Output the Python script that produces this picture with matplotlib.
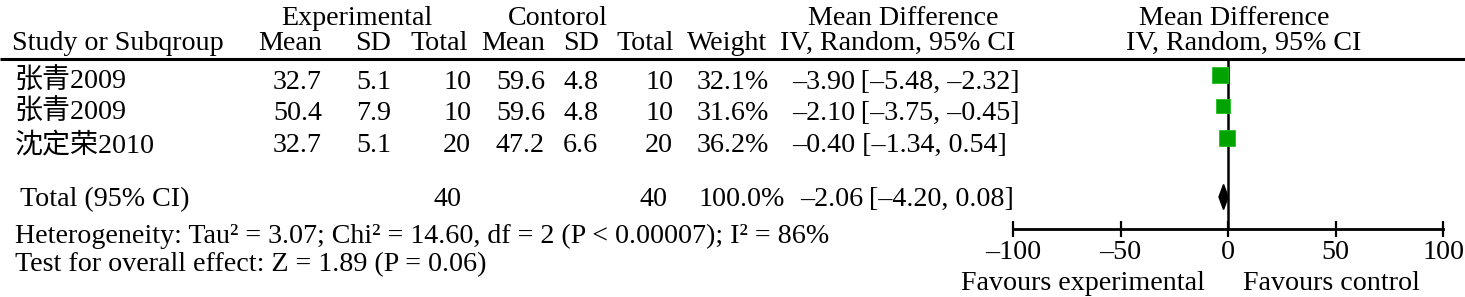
import matplotlib
matplotlib.use("Agg")
from matplotlib import pyplot as plt

plt.rcParams['font.family'] = ['Liberation Serif', 'Noto Sans CJK SC']

# Données
studies = ['张青2009', '张青2009', '沈定荣2010']
exp_mean = [32.7, 50.4, 32.7]
exp_sd = [5.1, 7.9, 5.1]
exp_n = [10, 10, 20]
ctl_mean = [59.6, 59.6, 47.2]
ctl_sd = [4.8, 4.8, 6.6]
ctl_n = [10, 10, 20]
weight = [32.1, 31.6, 36.2]
md = [-3.90, -2.10, -0.40]
md_lo = [-5.48, -3.75, -1.34]
md_hi = [-2.32, -0.45, 0.54]

total_exp_n = 40
total_ctl_n = 40
total_weight = 100.0
total_md = -2.06
total_lo = -4.20
total_hi = 0.08

ticks = [-100, -50, 0, 50, 100]
heterogeneity = "Heterogeneity: Tau² = 3.07; Chi² = 14.60, df = 2 (P < 0.00007); I² = 86%"
overall = "Test for overall effect: Z = 1.89 (P = 0.06)"


def fmt(v, nd=2):
    return f"{v:.{nd}f}".replace("-", "\u2013")


def ci_text(m, lo, hi, gap):
    return f"{fmt(m)}{gap}[{fmt(lo)}, {fmt(hi)}]"


W, H = 1465, 297
FS = 20.2
fig = plt.figure(figsize=(W / 100, H / 100), dpi=100)

# Tableau (coordonnées en pixels)
ax = fig.add_axes([0, 0, 1, 1])
ax.set_xlim(0, W)
ax.set_ylim(H, 0)
ax.axis('off')


def txt(x, y, s, ha='left'):
    ax.text(x, y, s, ha=ha, va='baseline', fontsize=FS, color='black')


# En-têtes
txt(357, 25, "Experimental", ha='center')
txt(558, 25, "Contorol", ha='center')
txt(903, 25, "Mean Difference", ha='center')
txt(1234, 25, "Mean Difference", ha='center')
txt(12, 50, "Study or Subqroup")
txt(322, 50, "Mean", ha='right')
txt(355, 50, "SD")
txt(468, 50, "Total", ha='right')
txt(545, 50, "Mean", ha='right')
txt(563, 50, "SD")
txt(674, 50, "Total", ha='right')
txt(767, 50, "Weight", ha='right')
txt(780, 50, "IV, Random, 95% CI")
txt(1244, 50, "IV, Random, 95% CI", ha='center')
ax.plot([0, W], [59, 59], color='black', lw=2.2, solid_capstyle='butt')

row_base = [89, 120, 152]
gaps = ['\u2009', '\u2009', ' ']
for i in range(len(studies)):
    y = row_base[i]
    txt(15, y, studies[i])
    txt(322, y, f"{exp_mean[i]:.1f}", ha='right')
    txt(356, y, f"{exp_sd[i]:.1f}")
    txt(471, y, str(exp_n[i]), ha='right')
    txt(545, y, f"{ctl_mean[i]:.1f}", ha='right')
    txt(563, y, f"{ctl_sd[i]:.1f}")
    txt(673, y, str(ctl_n[i]), ha='right')
    txt(697, y, f"{weight[i]:.1f}%")
    txt(792, y, ci_text(md[i], md_lo[i], md_hi[i], gaps[i]))

txt(20, 206, "Total (95% CI)")
txt(461, 206, str(total_exp_n), ha='right')
txt(668, 206, str(total_ctl_n), ha='right')
txt(698, 206, f"{total_weight:.1f}%")
txt(800, 206, ci_text(total_md, total_lo, total_hi, '\u2009'))
txt(15, 243, heterogeneity)
txt(15, 271, overall)
txt(1083, 290, "Favours experimental", ha='center')
txt(1243, 290, "Favours control")

# Forest plot
y_axis, y_top = 229, 59
fa = fig.add_axes([1013 / W, (H - y_axis) / H, 430 / W, (y_axis - y_top) / H])
fa.set_xlim(ticks[0], ticks[-1])
fa.set_ylim(y_axis, y_top)
fa.patch.set_alpha(0)
for s in ['top', 'left', 'right']:
    fa.spines[s].set_visible(False)
fa.spines['bottom'].set_linewidth(2)
fa.set_yticks([])
fa.set_xticks(ticks)
fa.set_xticklabels([fmt(t, 0) for t in ticks], fontsize=FS)
fa.tick_params(axis='x', direction='inout', length=12, width=1.6, pad=2)
fa.axvline(0, color='black', lw=1.8)

sq_y = [75, 106, 138]
green = '#00a300'
for i in range(len(md)):
    fa.plot([md_lo[i], md_hi[i]], [sq_y[i], sq_y[i]], color='black', lw=1, zorder=2)
    size = 11.5 * (weight[i] / max(weight)) ** 0.5
    fa.plot(md[i], sq_y[i], marker='s', markersize=size, color=green,
            markeredgecolor='#22c022', markeredgewidth=0.6, zorder=3)

dy = 12.5
d_y = 197
fa.fill([total_lo, total_md, total_hi, total_md],
        [d_y, d_y - dy, d_y, d_y + dy], color='black', zorder=4, clip_on=False)

fig.savefig("out.png", dpi=100)
